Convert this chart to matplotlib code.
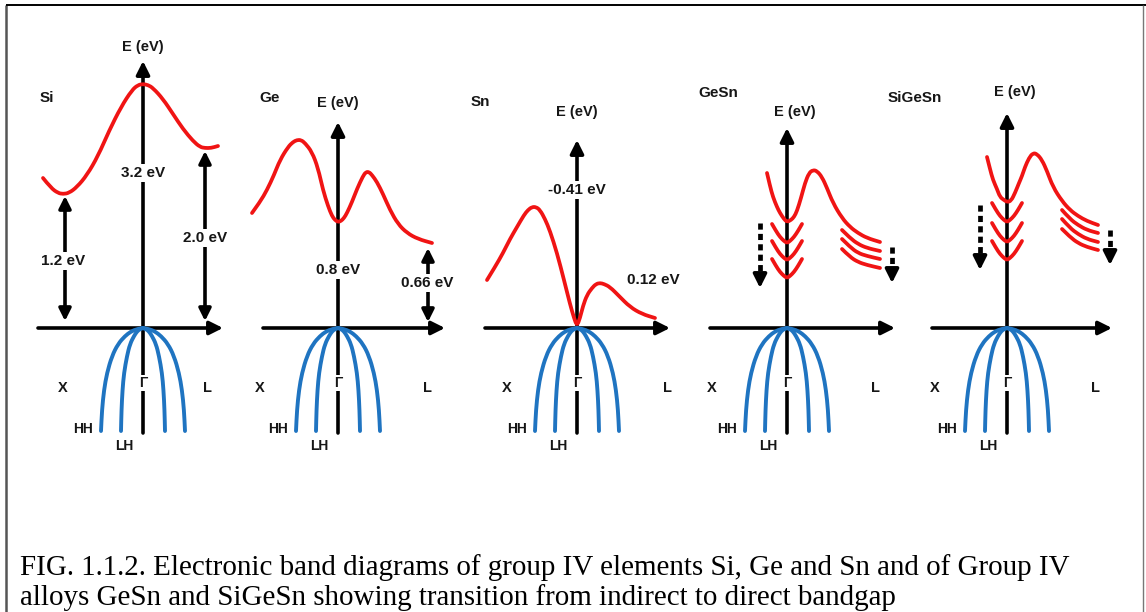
import numpy as np
import matplotlib
matplotlib.use("Agg")
import matplotlib.pyplot as plt
from matplotlib.path import Path
from matplotlib.patches import PathPatch

# panel origins (Gamma point) in figure pixels
PANEL_NAMES = ["Si", "Ge", "Sn", "GeSn", "SiGeSn"]
PANEL_X0 = [143, 338, 577, 787, 1007]
PANEL_Y0 = [328, 328, 328, 328, 328]
AXIS_LEFT = [-105, -75, -92, -77, -75]
AXIS_RIGHT = [80, 107, 93, 108, 105]
AXIS_TOP = [267, 206, 188, 200, 215]
AXIS_BOTTOM = -105

NAME_POS = [(-96, 230), (-68, 230), (-97, 226), (-69, 235), (-92, 230)]
EEV_POS = [(0, 281), (0, 225), (0, 216), (8, 216), (8, 236)]
X_LABEL_K = [-80, -78, -70, -75, -72]
L_LABEL_K = [64, 89, 90, 88, 88]

# conduction bands (k offset, E offset)
SI_CB_K = [-100, -92, -85, -80, -74, -66, -56, -45, -34, -22, -11, -5, 0, 5, 10, 20, 30, 40, 50, 57, 62, 68, 75]
SI_CB_E = [150, 140, 135, 134, 135, 141, 153, 172, 197, 221, 238, 243, 244, 243, 240, 229, 214, 199, 187, 181, 180, 180, 182]

GE_CB_K = [-86, -78, -71, -64, -58, -50, -45, -41, -37, -33, -26, -20, -15, -10, -6, -3, 0, 3, 6, 9, 14, 19, 25, 28, 31, 34, 39, 45, 52, 60, 69, 80, 94]
GE_CB_E = [115, 126, 138, 153, 168, 181, 186, 188, 188, 185, 176, 160, 138, 122, 112, 108, 106, 107, 110, 115, 126, 139, 152, 156, 156, 153, 146, 134, 118, 104, 95, 89, 85]

SN_CB_K = [-90, -82, -74, -67, -60, -53, -49, -45, -41, -37, -32, -27, -20, -13, -7, -3, 0, 3, 6, 10, 15, 19, 23, 27, 33, 42, 53, 65, 78]
SN_CB_E = [48, 61, 75, 89, 101, 113, 118, 121, 121, 118, 109, 97, 75, 48, 24, 10, 2, 10, 22, 33, 40, 44, 45, 44, 41, 32, 21, 14, 10]

GESN_CB_K = [-20, -17, -14, -10, -7, -3, 0, 4, 7, 10, 14, 18, 22, 26, 30, 35, 40, 46, 55, 63, 71, 80, 93]
GESN_CB_E = [155, 142, 131, 121, 115, 109, 106, 108, 111, 117, 130, 145, 155, 158, 157, 151, 140, 125, 110, 101, 95, 90, 86]
GESN_CHEVRON_MIN = [85, 68, 50]
GESN_TAIL_K = [55, 63, 71, 80, 93]
GESN_TAIL_1 = [98, 90, 84, 80, 77]
GESN_TAIL_2 = [89, 81, 75, 72, 69]
GESN_TAIL_3 = [79, 71, 66, 63, 60]

SIGESN_CB_K = [-20, -17, -14, -10, -7, -3, 0, 4, 8, 12, 15, 18, 22, 26, 30, 35, 40, 46, 55, 63, 71, 80, 91]
SIGESN_CB_E = [171, 159, 148, 139, 131, 128, 126, 127, 135, 145, 152, 161, 170, 175, 174, 168, 157, 141, 127, 118, 112, 107, 103]
SIGESN_CHEVRON_MIN = [106, 86, 68]
SIGESN_TAIL_K = [55, 63, 71, 80, 91]
SIGESN_TAIL_1 = [118, 109, 103, 98, 95]
SIGESN_TAIL_2 = [109, 100, 94, 89, 86]
SIGESN_TAIL_3 = [99, 91, 85, 81, 78]

CHEVRON_K = [-15, -11, -7, -3, 0, 3, 7, 11, 15]
CHEVRON_E = [19, 12, 6, 2, 0, 2, 6, 12, 19]

# valence bands (left half, mirrored for the right side)
VB_HH_K = [0, -6, -12, -18, -25, -31, -36, -39, -41, -42]
VB_HH_E = [0, -1, -3.5, -8, -16, -28, -45, -62, -82, -103]
VB_LH_K = [0, -3, -6, -9, -13, -16, -19, -20.5, -21.5, -22]
VB_LH_E = [0, -1, -3.5, -8, -16, -28, -45, -62, -82, -103]

# gap arrows: (panel, k, E bottom, E top, label, label k, label E)
GAP_ARROWS = [
    (0, -78, 7, 132, "1.2 eV", -80, 67),
    (0, 62, 7, 177, "2.0 eV", 62, 90),
    (1, 90, 6, 80, "0.66 eV", 89, 45),
]
# labels on the vertical axis: (panel, text, E)
AXIS_LABELS = [(0, "3.2 eV", 155), (1, "0.8 eV", 58), (2, "-0.41 eV", 138)]
EXTRA_LABELS = [(2, "0.12 eV", 76, 48)]
# dashed shift arrows: (panel, k, E start, E tip)
SHIFT_ARROWS = [(3, -27, 105, 40), (3, 105, 81, 45), (4, -27, 123, 58), (4, 103, 98, 63)]

CAPTION = ["FIG. 1.1.2. Electronic band diagrams of group IV elements Si, Ge and Sn and of Group IV",
           "alloys GeSn and SiGeSn showing transition from indirect to direct bandgap"]

RED = "#f01414"
BLUE = "#1f74c1"
SANS = "Liberation Sans"

fig = plt.figure(figsize=(11.46, 6.12), dpi=100)
ax = fig.add_axes([0, 0, 1, 1])
ax.set_xlim(0, 1146)
ax.set_ylim(612, 0)
ax.axis("off")


def px(i, k, e):
    return PANEL_X0[i] + np.asarray(k, dtype=float), PANEL_Y0[i] - np.asarray(e, dtype=float)


def smooth(xs, ys, color, lw, z=5):
    # quadratic bezier through the read-off points (points used as control points)
    pts = np.column_stack([xs, ys])
    verts = [pts[0]]
    codes = [Path.MOVETO]
    for j in range(1, len(pts) - 1):
        verts += [pts[j], (pts[j] + pts[j + 1]) / 2]
        codes += [Path.CURVE3, Path.CURVE3]
    verts.append(pts[-1])
    codes.append(Path.LINETO)
    ax.add_patch(PathPatch(Path(verts, codes), fc="none", ec=color, lw=lw,
                           zorder=z, capstyle="round", joinstyle="round"))


def arrow(x0, y0, x1, y1, style="-|>", lw=2.6, ms=20, z=3):
    ax.annotate("", xy=(x1, y1), xytext=(x0, y0),
                arrowprops=dict(arrowstyle=style, color="black", lw=lw,
                                mutation_scale=ms, shrinkA=0, shrinkB=0),
                zorder=z)


def label(x, y, s, size=11, bg=False):
    kw = dict(ha="center", va="center", fontsize=size, fontweight="bold",
              family=SANS, color="#161616", zorder=6)
    if bg:
        kw["bbox"] = dict(fc="white", ec="none", pad=1.5)
    ax.text(x, y, s, **kw)


CB = [(SI_CB_K, SI_CB_E), (GE_CB_K, GE_CB_E), (SN_CB_K, SN_CB_E),
      (GESN_CB_K, GESN_CB_E), (SIGESN_CB_K, SIGESN_CB_E)]

for i in range(len(PANEL_NAMES)):
    x0, y0 = PANEL_X0[i], PANEL_Y0[i]
    # axes
    arrow(x0 + AXIS_LEFT[i], y0, x0 + AXIS_RIGHT[i], y0)
    arrow(x0, y0 - AXIS_BOTTOM, x0, y0 - AXIS_TOP[i])
    # valence bands
    for kk, ee in [(VB_HH_K, VB_HH_E), (VB_LH_K, VB_LH_E)]:
        xs, ys = px(i, kk, ee)
        smooth(xs, ys, BLUE, 2.8, z=4)
        smooth(2 * x0 - xs, ys, BLUE, 2.8, z=4)
    # conduction band
    xs, ys = px(i, *CB[i])
    smooth(xs, ys, RED, 2.7)
    # text
    label(x0 + NAME_POS[i][0], y0 - NAME_POS[i][1], PANEL_NAMES[i], size=11)
    label(x0 + EEV_POS[i][0], y0 - EEV_POS[i][1], "E (eV)", size=10.5)
    label(x0 + X_LABEL_K[i], y0 + 60, "X", size=10.5)
    label(x0 + L_LABEL_K[i], y0 + 60, "L", size=10.5)
    label(x0 - 60, y0 + 101, "HH", size=10)
    label(x0 - 19, y0 + 118, "LH", size=10)
    ax.text(x0 - 3.5, y0 + 55, "Γ", ha="left", va="center", fontsize=10,
            fontweight="bold", family=SANS, color="#161616", zorder=6,
            bbox=dict(fc="white", ec="none", pad=1.0))

# alloy panels: chevrons and L-valley tails
for i, mins, tk, tails in [(3, GESN_CHEVRON_MIN, GESN_TAIL_K, [GESN_TAIL_1, GESN_TAIL_2, GESN_TAIL_3]),
                           (4, SIGESN_CHEVRON_MIN, SIGESN_TAIL_K, [SIGESN_TAIL_1, SIGESN_TAIL_2, SIGESN_TAIL_3])]:
    for m in mins:
        xs, ys = px(i, CHEVRON_K, np.asarray(CHEVRON_E) + m)
        smooth(xs, ys, RED, 2.7)
    for t in tails:
        xs, ys = px(i, tk, t)
        smooth(xs, ys, RED, 2.7)

for p, k, e0, e1, s, lk, le in GAP_ARROWS:
    x, y0 = PANEL_X0[p] + k, PANEL_Y0[p]
    arrow(x, y0 - e0, x, y0 - e1, style="<|-|>", lw=2.6, ms=18)
    label(PANEL_X0[p] + lk, y0 - le, s, bg=True)

for p, s, e in AXIS_LABELS:
    label(PANEL_X0[p], PANEL_Y0[p] - e, s, bg=True)

for p, s, k, e in EXTRA_LABELS:
    label(PANEL_X0[p] + k, PANEL_Y0[p] - e, s)

for p, k, e0, e1 in SHIFT_ARROWS:
    x, y0 = PANEL_X0[p] + k, PANEL_Y0[p]
    ax.plot([x, x], [y0 - e0, y0 - e1 - 10], color="black", lw=3.4,
            dashes=(1.3, 0.9), zorder=3, solid_capstyle="butt")
    arrow(x, y0 - e1 - 13, x, y0 - e1, lw=2.6, ms=20)

# caption
for j, line in enumerate(CAPTION):
    ax.text(20, 568 + 30 * j, line, ha="left", va="center", fontsize=20.9,
            family="Liberation Serif", color="black")

# frame
ax.plot([6, 6], [5, 612], color="#555555", lw=1.8, solid_capstyle="butt")
ax.plot([6, 1146], [5, 5], color="black", lw=1.4, solid_capstyle="butt")
ax.plot([1143, 1143], [5, 612], color="#777777", lw=1.0, solid_capstyle="butt")

fig.savefig("out.png", dpi=100)
